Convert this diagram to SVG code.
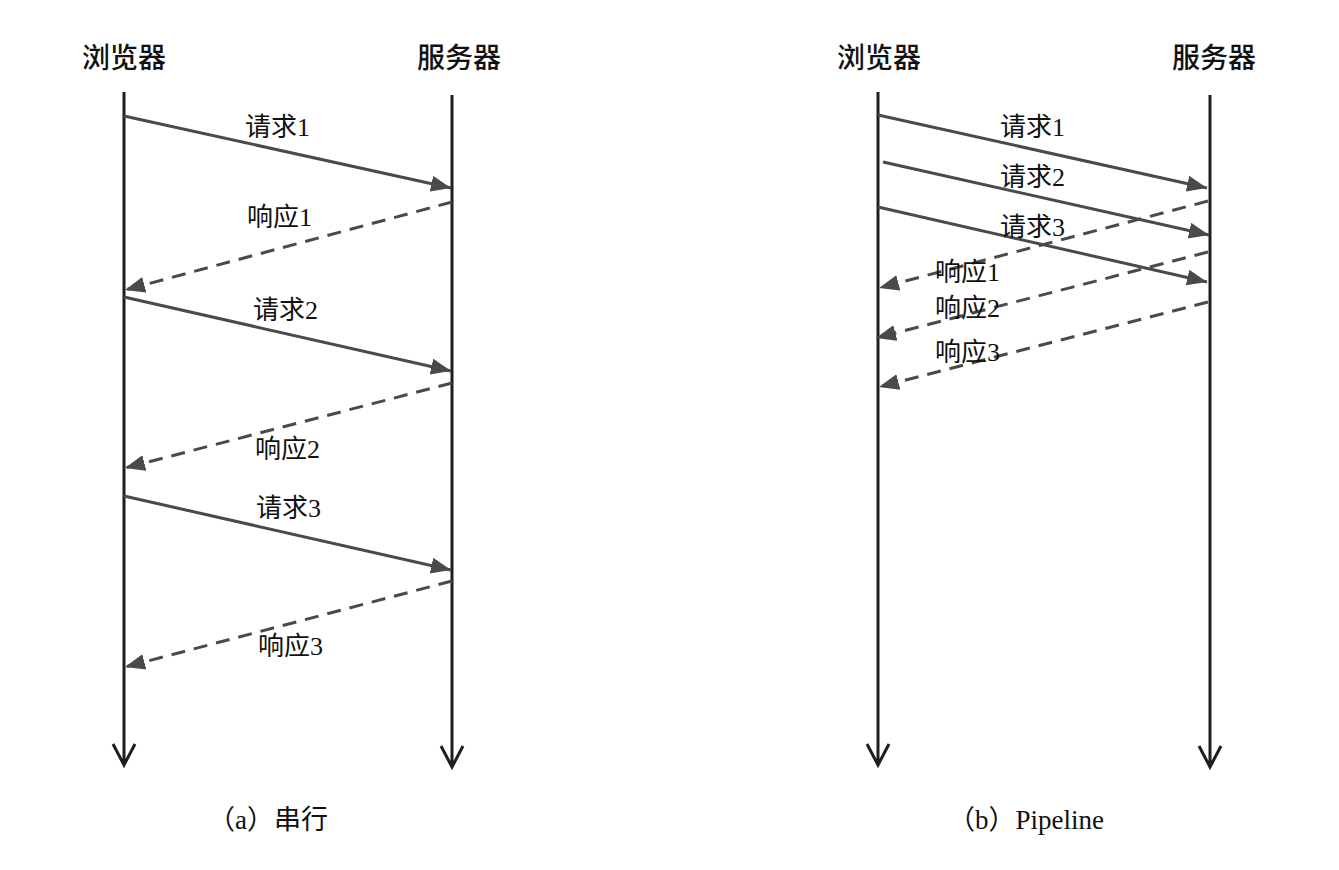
<svg xmlns="http://www.w3.org/2000/svg" width="1339" height="870" viewBox="0 0 1339 870">
<style>
.hd{font-family:"Noto Sans CJK SC",sans-serif;font-size:28px;font-weight:500;fill:#111;text-anchor:middle}
.lb{font-family:"Liberation Serif","Noto Sans CJK SC",serif;font-size:26px;fill:#111}
.cap{font-family:"Liberation Serif","Noto Sans CJK SC",serif;font-size:27px;fill:#111;text-anchor:middle}
.life{stroke:#1e1e1e;stroke-width:3;fill:none}
.req{stroke:#4a4a4a;stroke-width:3;fill:none;marker-end:url(#tri)}
.rsp{stroke:#4a4a4a;stroke-width:3;fill:none;stroke-dasharray:14 9;marker-end:url(#tri)}
</style>
<defs>
<marker id="tri" markerUnits="userSpaceOnUse" markerWidth="22" markerHeight="18" refX="20" refY="8" orient="auto">
<path d="M0,0 L20,8 L0,16 z" fill="#4a4a4a"/>
</marker>
</defs>
<rect width="1339" height="870" fill="#fff"/>
<g id="lifelines-a">
<g id="browser-a"><text class="hd" x="124" y="68">浏览器</text><path class="life" d="M124,92 V765 M113,744 L124,765 L135,744"/></g>
<g id="server-a"><text class="hd" x="459" y="68">服务器</text><path class="life" d="M452,95 V767 M441,746 L452,767 L463,746"/></g>
</g>
<g id="lifelines-b">
<g id="browser-b"><text class="hd" x="879" y="68">浏览器</text><path class="life" d="M878,92 V765 M867,744 L878,765 L889,744"/></g>
<g id="server-b"><text class="hd" x="1214" y="68">服务器</text><path class="life" d="M1210,95 V767 M1199,746 L1210,767 L1221,746"/></g>
</g>
<g id="connectors">
<line class="req" x1="124" y1="116" x2="451" y2="188"/>
<line class="rsp" x1="452" y1="202" x2="125" y2="290"/>
<line class="req" x1="124" y1="297" x2="451" y2="371"/>
<line class="rsp" x1="452" y1="383" x2="125" y2="468"/>
<line class="req" x1="124" y1="496" x2="451" y2="570"/>
<line class="rsp" x1="452" y1="581" x2="125" y2="667"/>
<line class="req" x1="878" y1="115" x2="1207" y2="188"/>
<line class="req" x1="883" y1="162" x2="1209" y2="235"/>
<line class="req" x1="878" y1="207" x2="1207" y2="282"/>
<line class="rsp" x1="1208" y1="201" x2="879" y2="288"/>
<line class="rsp" x1="1208" y1="252" x2="876" y2="338"/>
<line class="rsp" x1="1208" y1="302" x2="879" y2="387"/>
</g>
<g id="labels-a">
<text class="lb" x="245" y="136">请求1</text>
<text class="lb" x="247" y="226">响应1</text>
<text class="lb" x="253" y="319">请求2</text>
<text class="lb" x="255" y="458">响应2</text>
<text class="lb" x="256" y="517">请求3</text>
<text class="lb" x="258" y="655">响应3</text>
</g>
<g id="labels-b">
<text class="lb" x="1000" y="136">请求1</text>
<text class="lb" x="1000" y="186">请求2</text>
<text class="lb" x="1000" y="236">请求3</text>
<text class="lb" x="935" y="281">响应1</text>
<text class="lb" x="935" y="317">响应2</text>
<text class="lb" x="935" y="361">响应3</text>
</g>
<g id="captions">
<text class="cap" x="268" y="829">（a）串行</text>
<text class="cap" x="1026" y="829">（b）Pipeline</text>
</g>
</svg>
